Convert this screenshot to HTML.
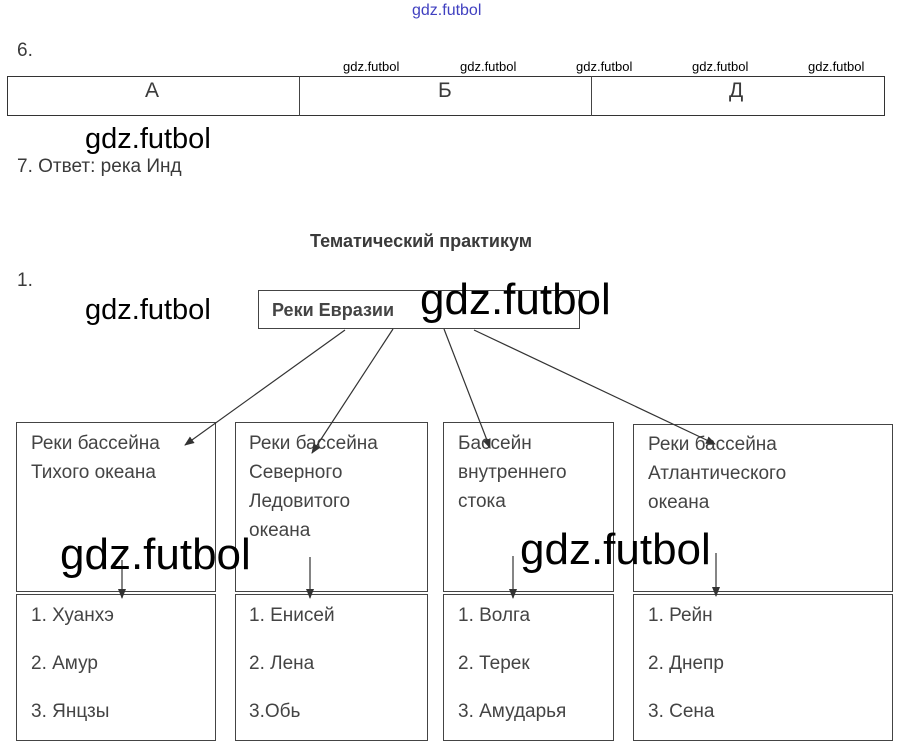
<!DOCTYPE html>
<html><head><meta charset="utf-8"><style>
body{margin:0;width:905px;height:756px;background:#fff;position:relative;overflow:hidden;font-family:"Liberation Sans",sans-serif;color:#3a3a3a}
.a{position:absolute;white-space:nowrap}
.w{position:absolute;white-space:nowrap;font-family:"Liberation Sans Narrow","Liberation Sans",sans-serif;color:#000}
.b{position:absolute;border:1px solid #444;box-sizing:border-box}
.t{position:absolute;font-size:19px;line-height:29px;color:#444;white-space:nowrap}
</style></head><body>
<div class="w" style="left:412px;top:2px;font-size:16px;color:#4040c0">gdz.futbol</div>
<div class="a" style="left:17px;top:40px;font-size:19px">6.</div>
<div class="w" style="left:343px;top:59px;font-size:13px">gdz.futbol</div>
<div class="w" style="left:460px;top:59px;font-size:13px">gdz.futbol</div>
<div class="w" style="left:576px;top:59px;font-size:13px">gdz.futbol</div>
<div class="w" style="left:692px;top:59px;font-size:13px">gdz.futbol</div>
<div class="w" style="left:808px;top:59px;font-size:13px">gdz.futbol</div>
<div class="b" style="left:7px;top:76px;width:878px;height:40px;border-color:#333"></div>
<div class="b" style="left:299px;top:76px;width:1px;height:40px;border-width:0 0 0 1px"></div>
<div class="b" style="left:591px;top:76px;width:1px;height:40px;border-width:0 0 0 1px"></div>
<div class="a" style="left:145px;top:79px;font-size:21px">А</div>
<div class="a" style="left:438px;top:79px;font-size:21px">Б</div>
<div class="a" style="left:729px;top:79px;font-size:21px">Д</div>
<div class="w" style="left:85px;top:123px;font-size:29px">gdz.futbol</div>
<div class="a" style="left:17px;top:156px;font-size:19px">7. Ответ: река Инд</div>
<div class="a" style="left:310px;top:231px;font-size:18px;font-weight:bold">Тематический практикум</div>
<div class="a" style="left:17px;top:270px;font-size:19px">1.</div>
<div class="w" style="left:85px;top:294px;font-size:29px">gdz.futbol</div>
<div class="b" style="left:258px;top:290px;width:322px;height:39px"></div>
<div class="a" style="left:272px;top:300px;font-size:18px;font-weight:bold;color:#444">Реки Евразии</div>
<div class="b" style="left:16px;top:422px;width:200px;height:170px"></div>
<div class="b" style="left:235px;top:422px;width:193px;height:170px"></div>
<div class="b" style="left:443px;top:422px;width:171px;height:170px"></div>
<div class="b" style="left:633px;top:424px;width:260px;height:168px"></div>
<div class="b" style="left:16px;top:594px;width:200px;height:147px"></div>
<div class="b" style="left:235px;top:594px;width:193px;height:147px"></div>
<div class="b" style="left:443px;top:594px;width:171px;height:147px"></div>
<div class="b" style="left:633px;top:594px;width:260px;height:147px"></div>
<div class="t" style="left:31px;top:429px">Реки бассейна<br>Тихого океана</div>
<div class="t" style="left:249px;top:429px">Реки бассейна<br>Северного<br>Ледовитого<br>океана</div>
<div class="t" style="left:458px;top:429px">Бассейн<br>внутреннего<br>стока</div>
<div class="t" style="left:648px;top:430px">Реки бассейна<br>Атлантического<br>океана</div>
<div class="t" style="left:31px;top:592px;line-height:48px">1. Хуанхэ<br>2. Амур<br>3. Янцзы</div>
<div class="t" style="left:249px;top:592px;line-height:48px">1. Енисей<br>2. Лена<br>3.Обь</div>
<div class="t" style="left:458px;top:592px;line-height:48px">1. Волга<br>2. Терек<br>3. Амударья</div>
<div class="t" style="left:648px;top:592px;line-height:48px">1. Рейн<br>2. Днепр<br>3. Сена</div>
<svg class="a" style="left:0;top:0" width="905" height="756">
<defs><marker id="m" markerWidth="10" markerHeight="8" refX="9" refY="4" orient="auto" markerUnits="userSpaceOnUse"><path d="M0,0L10,4L0,8z" fill="#333"/></marker></defs>
<g stroke="#333" stroke-width="1.2" marker-end="url(#m)">
<line x1="345" y1="330" x2="185" y2="445"/>
<line x1="393" y1="329" x2="312" y2="453"/>
<line x1="444" y1="329" x2="490" y2="448"/>
<line x1="474" y1="330" x2="715" y2="444"/>
<line x1="122" y1="560" x2="122" y2="598"/>
<line x1="310" y1="557" x2="310" y2="598"/>
<line x1="513" y1="556" x2="513" y2="598"/>
<line x1="716" y1="553" x2="716" y2="596"/>
</g></svg>
<div class="w" style="left:420px;top:275px;font-size:44px">gdz.futbol</div>
<div class="w" style="left:60px;top:530px;font-size:44px">gdz.futbol</div>
<div class="w" style="left:520px;top:525px;font-size:44px">gdz.futbol</div>
</body></html>
